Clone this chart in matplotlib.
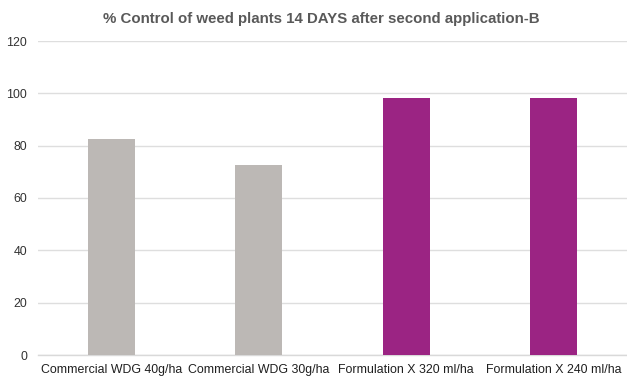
import numpy as np
import matplotlib.pyplot as plt

# treatments and % weed control values
categories = ['Commercial WDG 40g/ha', 'Commercial WDG 30g/ha',
              'Formulation X 320 ml/ha', 'Formulation X 240 ml/ha']
control = [82.5, 72.6, 98.1, 98.4]
bar_colors = ['#bcb8b5', '#bcb8b5', '#9b2483', '#9b2483']

plt.rcParams['font.family'] = ['Liberation Sans', 'DejaVu Sans']

fig = plt.figure(figsize=(6.27, 3.79), dpi=100)
ax = fig.add_axes([38 / 627, 24 / 379, 589 / 627, 314 / 379])

x = np.arange(len(categories))
ax.bar(x, control, width=0.32, color=bar_colors, zorder=3)

ax.set_xlim(-0.5, 3.5)
ax.set_ylim(0, 120)
ax.set_yticks(range(0, 121, 20))
ax.set_xticks(x)
ax.set_xticklabels(categories, fontsize=8.9, color='#1f1f1f')
ax.tick_params(axis='y', labelsize=8.9, labelcolor='#333333', length=0, pad=8)
ax.tick_params(axis='x', length=0, pad=6.5)

# light horizontal grid, only the bottom line kept
ax.grid(axis='y', color='#dedede', linewidth=1, zorder=0)
for s in ['top', 'right', 'left']:
    ax.spines[s].set_visible(False)
ax.spines['bottom'].set_color('#d9d9d9')
ax.spines['bottom'].set_linewidth(1)

fig.text(321 / 627, 1 - 19 / 379, '% Control of weed plants 14 DAYS after second application-B',
         ha='center', va='center', fontsize=10.8, fontweight='bold', color='#595959')

fig.savefig('out.png', dpi=100)
